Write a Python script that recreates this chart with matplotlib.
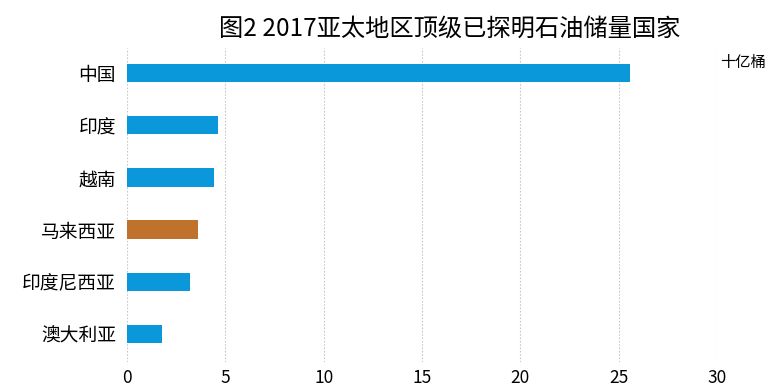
import matplotlib
matplotlib.use("Agg")
import matplotlib.pyplot as plt

plt.rcParams['font.family'] = ['Noto Sans CJK SC', 'DejaVu Sans']

countries = ["中国", "印度", "越南", "马来西亚", "印度尼西亚", "澳大利亚"]
reserves = [25.6, 4.6, 4.4, 3.6, 3.2, 1.8]
highlight = "马来西亚"
xticks = [0, 5, 10, 15, 20, 25, 30]
title = "图2 2017亚太地区顶级已探明石油储量国家"
unit = "十亿桶"

blue = "#0A98DA"
brown = "#C0722C"
colors = [brown if c == highlight else blue for c in countries]

fig = plt.figure(figsize=(7.75, 3.88), dpi=100)
ax = fig.add_axes([0.164, 0.067, 0.761, 0.809])

ypos = list(range(len(countries)))
ax.barh(ypos, reserves, height=0.35, color=colors, zorder=3)
ax.set_xlim(0, 30)
ax.set_ylim(5.54, -0.48)
ax.set_xticks(xticks)
ax.set_xticklabels([str(t) for t in xticks], fontsize=12.5)
ax.set_yticks(ypos)
ax.set_yticklabels(countries, fontsize=13.5)
ax.tick_params(axis='x', length=0, pad=5)
ax.tick_params(axis='y', length=0, pad=8)
ax.grid(axis='x', color='#C8C8C8', linestyle=(0, (1.5, 1.5)), linewidth=0.8, zorder=0)
for s in ax.spines.values():
    s.set_visible(False)

fig.text(0.58, 0.925, title, ha='center', va='center', fontsize=17.5)
ax.text(30.15, -0.2, unit, fontsize=11, ha='left', va='center',
        transform=ax.transData)

fig.savefig("out.png", dpi=100)
